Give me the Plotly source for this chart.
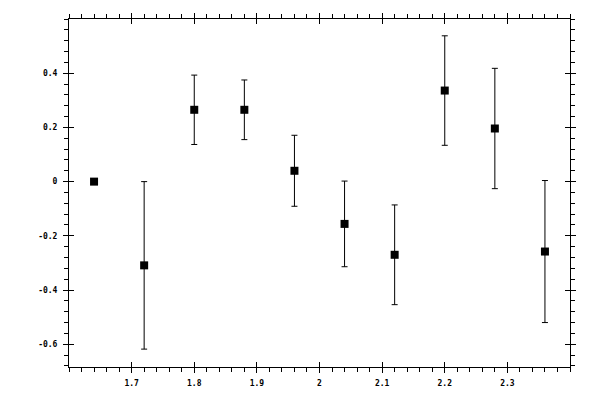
import plotly.graph_objects as go

x_vals = [1.64, 1.72, 1.80, 1.88, 1.96, 2.04, 2.12, 2.20, 2.28, 2.36]
y_vals = [0.0, -0.309, 0.265, 0.265, 0.040, -0.156, -0.270, 0.336, 0.196, -0.258]
y_err = [0.0, 0.309, 0.128, 0.110, 0.131, 0.158, 0.184, 0.202, 0.222, 0.262]

x_tick_vals = [1.7, 1.8, 1.9, 2.0, 2.1, 2.2, 2.3]
x_tick_text = ["1.7", "1.8", "1.9", "2", "2.1", "2.2", "2.3"]
y_tick_vals = [-0.6, -0.4, -0.2, 0.0, 0.2, 0.4]
y_tick_text = ["-0.6", "-0.4", "-0.2", "0", "0.2", "0.4"]

x_range = [1.6, 2.4]
y_range = [-0.684, 0.6]

fig = go.Figure()
fig.add_trace(go.Scatter(
    x=x_vals, y=y_vals, mode="markers",
    marker=dict(symbol="square", size=8, color="black"),
    error_y=dict(type="data", array=y_err, visible=True, color="black", thickness=1, width=3),
    showlegend=False,
))

font = dict(family="DejaVu Sans Mono", size=8, color="black", weight="bold")
fig.update_layout(
    width=600, height=400,
    margin=dict(l=69, r=30, t=19, b=30),
    plot_bgcolor="white", paper_bgcolor="white",
    font=font,
    xaxis=dict(
        range=x_range, tickvals=x_tick_vals, ticktext=x_tick_text,
        showgrid=False, zeroline=False, showline=True, linecolor="black", linewidth=1,
        ticks="outside", ticklen=5, tickwidth=1, tickcolor="black", mirror="ticks",
        minor=dict(dtick=0.02, tick0=1.6, ticks="outside", ticklen=4, tickwidth=1, tickcolor="black", showgrid=False),
        ticklabelstandoff=3,
    ),
    yaxis=dict(
        range=y_range, tickvals=y_tick_vals, ticktext=y_tick_text,
        showgrid=False, zeroline=False, showline=True, linecolor="black", linewidth=1,
        ticks="outside", ticklen=5, tickwidth=1, tickcolor="black", mirror="ticks",
        minor=dict(dtick=0.04, tick0=0, ticks="outside", ticklen=4, tickwidth=1, tickcolor="black", showgrid=False),
        ticklabelstandoff=4,
    ),
    xaxis2=dict(
        range=x_range, tickvals=x_tick_vals, overlaying="x", anchor="y",
        showgrid=False, zeroline=False, showline=False, showticklabels=False,
        ticks="inside", ticklen=5, tickwidth=1, tickcolor="black", mirror="ticks",
    ),
    yaxis2=dict(
        range=y_range, tickvals=y_tick_vals, overlaying="y", anchor="x",
        showgrid=False, zeroline=False, showline=False, showticklabels=False,
        ticks="inside", ticklen=5, tickwidth=1, tickcolor="black", mirror="ticks",
    ),
)
# invisible trace to activate the overlay axes
fig.add_trace(go.Scatter(x=[x_vals[0]], y=[y_vals[0]], xaxis="x2", yaxis="y2",
                         mode="markers", marker=dict(opacity=0), showlegend=False, hoverinfo="skip"))

fig.write_html("out.html", config={"displayModeBar": False},
               post_script="document.body.style.margin='0';document.body.style.padding='0';")
